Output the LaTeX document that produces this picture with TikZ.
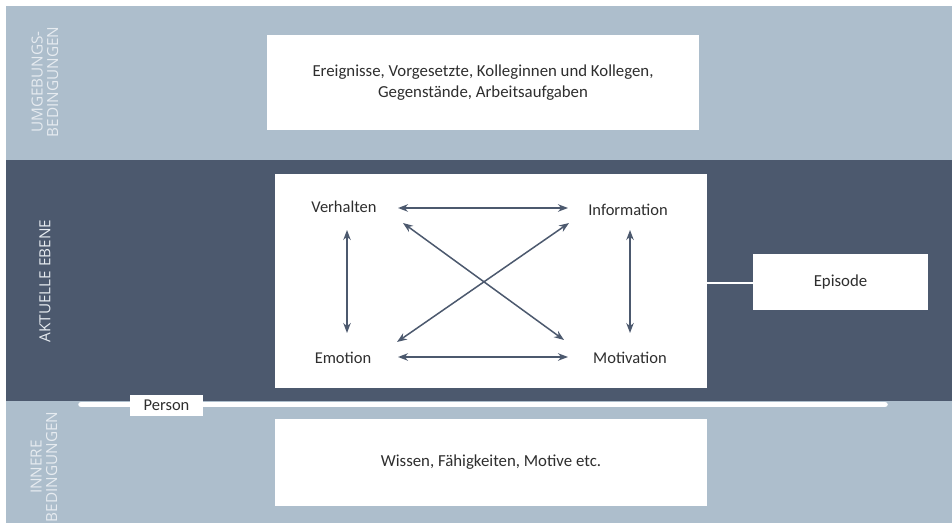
\documentclass[tikz,border=0pt]{standalone}
\usepackage{fontspec}
\setmainfont{Carlito}
\newfontfamily\labelfont{Open Sans}
\usetikzlibrary{arrows.meta}
\definecolor{lightband}{HTML}{ADBECC}
\definecolor{darkband}{HTML}{4C596E}
\definecolor{txt}{HTML}{2E2E2E}
\definecolor{sidetxt}{HTML}{E6EBF0}
\begin{document}
\begin{tikzpicture}[x=1pt,y=-1pt,
  whitebox/.style={draw=none,fill=white,inner sep=0pt,text=txt,font=\fontsize{16.8}{21}\selectfont,align=center},
  itemlbl/.style={text=txt,font=\fontsize{16.5}{18}\selectfont,inner sep=0pt},
  sidelbl/.style={text=sidetxt,font=\labelfont\fontsize{15.3}{15.5}\selectfont,rotate=90,align=center,inner sep=0pt},
  linkarrow/.style={draw=darkband,line width=1.5pt,{Stealth[length=10pt,width=7.5pt]}-{Stealth[length=10pt,width=7.5pt]}}
]
\useasboundingbox (0,0) rectangle (952,526);
\fill[white] (0,0) rectangle (952,526);
% bands
\fill[lightband] (6,6) rectangle (952,160);
\fill[darkband] (6,160) rectangle (952,401);
\fill[lightband] (6,401) rectangle (952,523);
% side labels
\node[sidelbl] (lu) at (45,82) {UMGEBUNGS-\\BEDINGUNGEN};
\node[sidelbl] (la) at (45,281) {AKTUELLE EBENE};
\node[sidelbl] (li) at (44,467) {INNERE\\BEDINGUNGEN};
% boxes
\node[whitebox,minimum width=432pt,minimum height=95pt] (top) at (483,83) {Ereignisse, Vorgesetzte, Kolleginnen und Kollegen,\\Gegenstände, Arbeitsaufgaben};
\node[whitebox,minimum width=432pt,minimum height=214pt] (mid) at (491,281) {};
\node[whitebox,minimum width=432pt,minimum height=87pt] (bot) at (491,462.5) {Wissen, Fähigkeiten, Motive etc.};
\node[whitebox,minimum width=175pt,minimum height=56pt] (epi) at (840.5,282) {Episode};
\draw[white,line width=2.5pt] (mid.east |- 0,283) coordinate (c1) -- (epi.west |- c1);
% person line
\coordinate (pl) at (81,404.5);
\coordinate (pr) at (885,404.5);
\draw[white,line width=5.5pt,line cap=round] (pl) -- (pr);
\node[whitebox,minimum width=73pt,minimum height=21pt,font=\fontsize{16.5}{18}\selectfont] (person) at (166.5,405) {Person};
% items
\node[itemlbl] (verh) at (344,207) {Verhalten};
\node[itemlbl] (info) at (628,210) {Information};
\node[itemlbl] (emo) at (343,358) {Emotion};
\node[itemlbl] (moti) at (630,358) {Motivation};
% arrows
\draw[linkarrow] ([shift={(54,1)}]verh.center) -- ([shift={(-60,-2)}]info.center);
\draw[linkarrow] ([shift={(55,-1)}]emo.center) -- ([shift={(-62,-1)}]moti.center);
\draw[linkarrow] ([shift={(3,23)}]verh.center) -- ([shift={(4,-25)}]emo.center);
\draw[linkarrow] ([shift={(2,20)}]info.center) -- ([shift={(0,-25)}]moti.center);
\draw[linkarrow] ([shift={(59,16)}]verh.center) -- ([shift={(-66,-18)}]moti.center);
\draw[linkarrow] ([shift={(54,-16)}]emo.center) -- ([shift={(-59,13)}]info.center);
\end{tikzpicture}
\end{document}
